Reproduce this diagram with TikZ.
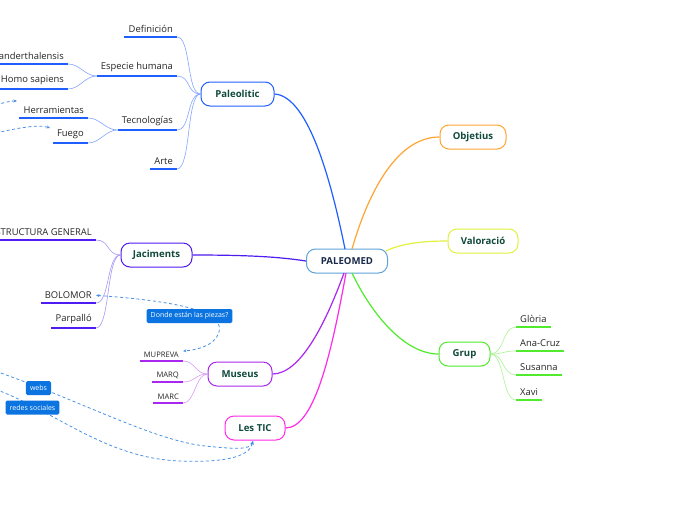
\documentclass[tikz,border=0pt]{standalone}
\usepackage{fontspec}
\setmainfont{Open Sans}
\usetikzlibrary{arrows.meta}
\definecolor{pb}{HTML}{1F5EFF}
\definecolor{pbl}{HTML}{86A6FF}
\definecolor{orng}{HTML}{FFA433}
\definecolor{yel}{HTML}{E0F23E}
\definecolor{jac}{HTML}{4E1CF0}
\definecolor{jacl}{HTML}{A898F6}
\definecolor{mus}{HTML}{A928F0}
\definecolor{musl}{HTML}{D59AF6}
\definecolor{tic}{HTML}{FF2BE8}
\definecolor{grn}{HTML}{4FEB2C}
\definecolor{grnl}{HTML}{AAF594}
\definecolor{cen}{HTML}{5EA2D8}
\definecolor{txtg}{HTML}{0F4A3A}
\definecolor{txtn}{HTML}{1A2A4A}
\definecolor{lbl}{HTML}{0B74E0}
\definecolor{dsh}{HTML}{4A92E6}
\begin{document}
\begin{tikzpicture}[x=1pt,y=-1pt,
  mainnode/.style={draw=#1, line width=1pt, fill=white, rounded corners=9pt,
    minimum height=24pt, inner sep=0pt, text=txtg, font=\fontsize{9.6}{11}\selectfont\bfseries},
  leaf/.style={inner xsep=4pt, inner ysep=4pt, text=black!85, font=\fontsize{9.4}{11}\selectfont},
  sleaf/.style={inner xsep=4pt, inner ysep=3.5pt, text=black!85, font=\fontsize{7.6}{9}\selectfont},
  ul/.style={draw=#1, line width=1.3pt},
  br/.style={draw=#1, line width=0.6pt},
  tag/.style={fill=lbl, text=white, rounded corners=1.5pt, inner xsep=4pt, inner ysep=0pt,
    minimum height=14pt, font=\fontsize{7}{8}\selectfont},
  dasharr/.style={draw=dsh, line width=0.8pt, dash pattern=on 3pt off 2.5pt, -{Stealth[length=3.5pt,width=3pt]}},
]
\clip (0,0) rectangle (696,520);
\fill[white] (0,0) rectangle (696,520);

% main nodes
\node[mainnode=cen, minimum width=81pt, text=txtn] (pm) at (347,261) {PALEOMED};
\node[mainnode=pb, minimum width=73pt] (pal) at (237.5,94) {Paleolitic};
\node[mainnode=orng, minimum width=66pt] (obj) at (473,137) {Objetius};
\node[mainnode=yel, minimum width=70pt] (val) at (483,241) {Valoració};
\node[mainnode=grn, minimum width=51pt] (grup) at (464.5,354) {Grup};
\node[mainnode=tic, minimum width=60pt] (tic) at (255,428) {Les TIC};
\node[mainnode=mus, minimum width=64pt] (mus) at (240,374) {Museus};
\node[mainnode=jac, minimum width=71pt] (jac) at (156.5,255) {Jaciments};

% main connectors
\draw[pb, line width=1.2pt] (pal.east) .. controls (310,96) and (333,190) .. (345,249);
\draw[orng, line width=1.2pt] (obj.west) .. controls (402,137) and (372,180) .. (352,249);
\draw[yel, line width=1.2pt] (val.west) .. controls (420,241) and (400,244) .. (386,251);
\draw[jac, line width=1.2pt] (jac.east) .. controls (250,255) and (280,257) .. (pm.west);
\draw[grn, line width=1.2pt] (352,273) .. controls (372,315) and (405,354) .. (grup.west);
\draw[mus, line width=1.2pt] (344,273) .. controls (325,325) and (300,374) .. (mus.east);
\draw[tic, line width=1.2pt] (346,273) .. controls (332,350) and (315,428) .. (tic.east);

% Paleolitic leaves
\node[leaf, anchor=south east] (def) at (177,37) {Definición};
\node[leaf, anchor=south east] (esp) at (177,76) {Especie humana};
\node[leaf, anchor=south east] (tec) at (177,130) {Tecnologías};
\node[leaf, anchor=south east] (arte) at (177,169) {Arte};
\node[leaf, anchor=south east] (nea) at (68,64) {Homo neanderthalensis};
\node[leaf, anchor=south east] (sap) at (68,89) {Homo sapiens};
\node[leaf, anchor=south east] (her) at (88,118) {Herramientas};
\node[leaf, anchor=south east] (fue) at (88,143) {Fuego};
\foreach \n in {def,esp,tec,arte,nea,sap,her,fue} \draw[ul=pb] (\n.south west) -- (\n.south east);
\foreach \n in {def,esp,tec,arte}
  \draw[br=pbl] (pal.west) .. controls +(-14,0) and +(14,0) .. (\n.south east);
\foreach \n in {nea,sap}
  \draw[br=pbl] (esp.south west) .. controls +(-12,0) and +(12,0) .. (\n.south east);
\foreach \n in {her,fue}
  \draw[br=pbl] (tec.south west) .. controls +(-12,0) and +(12,0) .. (\n.south east);

% Jaciments leaves
\node[leaf, anchor=south east] (est) at (96,240) {ESTRUCTURA GENERAL};
\node[leaf, anchor=south east] (bol) at (96,303) {BOLOMOR};
\node[leaf, anchor=south east] (par) at (96,328) {Parpalló};
\foreach \n in {est,bol,par} {
  \draw[ul=jac] (\n.south west) -- (\n.south east);
  \draw[br=jacl] (jac.west) .. controls +(-14,0) and +(14,0) .. (\n.south east);
}

% Museus leaves
\node[sleaf, anchor=south east] (mup) at (183,361) {MUPREVA};
\node[sleaf, anchor=south east] (marq) at (183,382) {MARQ};
\node[sleaf, anchor=south east] (marc) at (183,403) {MARC};
\foreach \n in {mup,marq,marc} {
  \draw[ul=mus] (\n.south west) -- (\n.south east);
  \draw[br=musl] (mus.west) .. controls +(-12,0) and +(12,0) .. (\n.south east);
}

% Grup leaves
\node[leaf, anchor=south west] (glo) at (516,327) {Glòria};
\node[leaf, anchor=south west] (ana) at (516,351) {Ana-Cruz};
\node[leaf, anchor=south west] (sus) at (516,375) {Susanna};
\node[leaf, anchor=south west] (xav) at (516,400) {Xavi};
\foreach \n in {glo,ana,sus,xav} {
  \draw[ul=grn] (\n.south west) -- (\n.south east);
  \draw[br=grnl] (grup.east) .. controls +(14,0) and +(-14,0) .. (\n.south west);
}

% dashed relations
\coordinate (s1) at (-20,109);
\coordinate (s2) at (-20,137);
\coordinate (h1) at (17,101);
\coordinate (f1) at (50,128);
\draw[dasharr] (s1) .. controls (0,104) and (8,101) .. (h1);
\draw[dasharr] (s2) .. controls (15,128) and (38,124) .. (f1);

\draw[dasharr, {Stealth[length=3.5pt,width=3pt]}-{Stealth[length=3.5pt,width=3pt]}]
  (bol.east) .. controls (190,302) and (224,314) .. (219,332)
  .. controls (215,346) and (196,350) .. ([yshift=3.5pt]mup.east);
\node[tag] (q) at (189.5,316) {Donde están las piezas?};

\coordinate (w0) at (-20,366);
\coordinate (r0) at (-20,384);
\coordinate (tt) at (253,441);
\draw[dasharr] (w0) .. controls (70,395) and (150,440) .. (205,446)
  .. controls (235,449) and (250,450) .. (tt);
\draw[dasharr] (r0) .. controls (50,405) and (100,458) .. (180,461)
  .. controls (230,463) and (250,455) .. (tt);
\node[tag] (webs) at (38.5,388) {webs};
\node[tag] (redes) at (32.5,407.5) {redes sociales};
\end{tikzpicture}
\end{document}
